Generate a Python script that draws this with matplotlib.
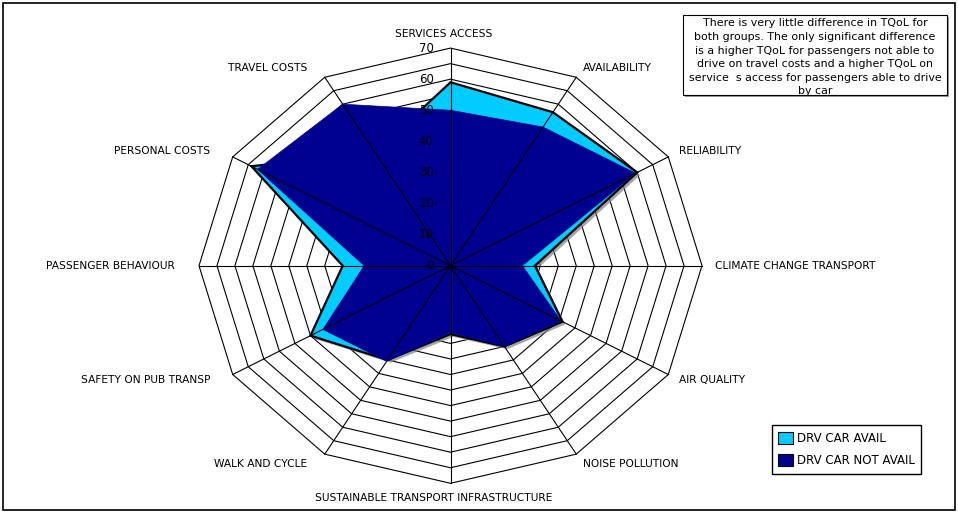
import numpy as np
import matplotlib
matplotlib.use('Agg')
import matplotlib.pyplot as plt
import matplotlib.patheffects as pe
from matplotlib.patches import Polygon, Rectangle, Patch

categories = ['SERVICES ACCESS', 'AVAILABILITY', 'RELIABILITY', 'CLIMATE CHANGE TRANSPORT',
              'AIR QUALITY', 'NOISE POLLUTION', 'SUSTAINABLE TRANSPORT INFRASTRUCTURE',
              'WALK AND CYCLE', 'SAFETY ON PUB TRANSP', 'PASSENGER BEHAVIOUR',
              'PERSONAL COSTS', 'TRAVEL COSTS']
drv_car_avail = [59, 57, 60, 23.5, 36, 30, 22, 35, 45, 30, 64, 42]
drv_car_not_avail = [50, 51.5, 59.5, 20, 35.5, 30, 21.5, 35.5, 41, 24, 62, 60]
tick_values = [0, 10, 20, 30, 40, 50, 60, 70]
ring_values = list(range(5, 75, 5))
note = ("There is very little difference in TQoL for\n"
        "both groups. The only significant difference\n"
        "is a higher TQoL for passengers not able to\n"
        "drive on travel costs and a higher TQoL on\n"
        "service  s access for passengers able to drive\n"
        "by car")

W, H = 958, 513
cx, cy = 450.5, 265.7      # centre in pixels
sx, sy = 251.5 / 70, 217.6 / 70   # pixels per unit (chart is stretched sideways)

fig = plt.figure(figsize=(W / 100, H / 100), dpi=100)
ax = fig.add_axes([0, 0, 1, 1])
ax.set_xlim(-cx / sx, (W - cx) / sx)
ax.set_ylim(-(H - cy) / sy, cy / sy)
ax.axis('off')

n = len(categories)
ang = np.arange(n) * 2 * np.pi / n


def pts(vals):
    vals = np.asarray(vals, dtype=float)
    return np.column_stack([vals * np.sin(ang), vals * np.cos(ang)])


# grid rings
for r in ring_values:
    ax.add_patch(Polygon(pts([r] * n), closed=True, fill=False, ec='black', lw=0.8, zorder=1))

shadow = [pe.SimplePatchShadow(offset=(2, -2), shadow_rgbFace='#808080', alpha=0.7), pe.Normal()]
p1 = Polygon(pts(drv_car_avail), closed=True, fc='#00CCFF', ec='black', lw=1.6, zorder=2)
p1.set_path_effects(shadow)
ax.add_patch(p1)
p2 = Polygon(pts(drv_car_not_avail), closed=True, fc='#000090', ec='#000090', lw=0.5, zorder=3)
ax.add_patch(p2)

# spokes
outer = pts([70] * n)
for x, y in outer:
    ax.plot([0, x], [0, y], color='black', lw=0.8, zorder=4)

# radial tick labels
for v in tick_values:
    ax.text(-4.7, v, str(v), ha='right', va='center', fontsize=8.5, zorder=5)

# category labels
rl = 73.5
for k, lab in enumerate(categories):
    s, c = np.sin(ang[k]), np.cos(ang[k])
    x, y = rl * s, rl * c
    if abs(s) < 1e-6:
        ha = 'center'
        if c > 0:
            va = 'bottom'
            y -= 0.6
            x -= 2
        else:
            va = 'top'
            y += 0.3
            x -= 4.8
    elif s > 0:
        ha, va = 'left', 'center'
    else:
        ha, va = 'right', 'center'
        x -= 3.2
    ax.text(x, y, lab, ha=ha, va=va, fontsize=7.7)

# note box
box = Rectangle((683 / W, 1 - 95 / H), 264 / W, 80 / H, transform=fig.transFigure,
                fc='white', ec='black', lw=0.8)
box.set_path_effects([pe.SimplePatchShadow(offset=(1.5, -1.5), shadow_rgbFace='#808080', alpha=0.8), pe.Normal()])
fig.add_artist(box)
t = fig.text(815 / W, 1 - 18.5 / H, note, ha='center', va='top', fontsize=7.9, linespacing=1.45)
t.set_clip_path(box)

# legend
handles = [Patch(fc='#00CCFF', ec='black', lw=0.8, label='DRV CAR AVAIL'),
           Patch(fc='#000090', ec='black', lw=0.8, label='DRV CAR NOT AVAIL')]
fig.legend(handles=handles, loc='center', bbox_to_anchor=(846.5 / W, 1 - 449.5 / H),
           fontsize=8.5, frameon=True, fancybox=False, edgecolor='black', framealpha=1,
           handlelength=1.25, handleheight=1.25, handletextpad=0.3, labelspacing=0.75,
           borderpad=0.55, borderaxespad=0)

# outer frame
fig.add_artist(Rectangle((3 / W, 3 / H), (W - 6) / W, (H - 6) / H, transform=fig.transFigure,
                         fill=False, ec='black', lw=1.2))

fig.savefig('out.png', dpi=100)
